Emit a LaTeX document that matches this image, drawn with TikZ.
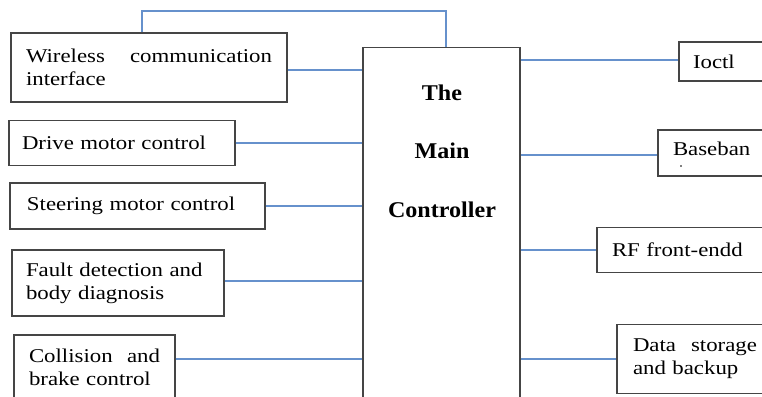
\documentclass[tikz,border=0pt]{standalone}
\usepackage{fontspec}
\setmainfont{Liberation Serif}
\newfontfamily\boxfont{Liberation Serif}[FakeStretch=1.17]
\newfontfamily\ctrlfont{Liberation Serif}[FakeStretch=1.07]
\usetikzlibrary{positioning}
\setlength{\parindent}{0pt}
\definecolor{linkblue}{rgb}{0.40,0.57,0.80}
\definecolor{boxgray}{rgb}{0.27,0.27,0.27}
\tikzset{
  blk/.style={draw=boxgray,line width=1.3pt,fill=white,rectangle,inner xsep=15pt,inner ysep=2pt,
    align=left,font=\boxfont\fontsize{19.5}{23}\selectfont},
  link/.style={draw=linkblue,line width=1.4pt},
  ctrltext/.style={align=center,font=\ctrlfont\bfseries\fontsize{22.5}{58.5}\selectfont}
}

\begin{document}
\begin{tikzpicture}[x=1pt,y=-1pt]
\useasboundingbox (0,0) rectangle (762,396);
\clip (0,0) rectangle (762,396);
% the controller
\node[blk,minimum width=157pt,minimum height=380pt,anchor=north] (main) at (441.5,47) {};
\node[ctrltext] (ctrl) at (442,151) {The\\Main\\Controller};
% left column
\node[blk,minimum width=276pt,minimum height=69pt,text width=246pt] (wireless) at (149,67.5) {Wireless\hfill communication\\interface};
\node[blk,minimum width=226pt,minimum height=45pt,text width=200pt,inner xsep=13pt] (drive) at (122,143) {Drive motor control};
\node[blk,minimum width=255pt,minimum height=46pt,text width=221pt,inner xsep=17pt] (steer) at (137.5,206) {Steering motor control};
\node[blk,minimum width=212pt,minimum height=66pt,text width=190pt,inner xsep=11pt] (fault) at (118,283) {\hspace{3pt}Fault detection and\\\hspace{3pt}body diagnosis};
\node[blk,minimum width=161pt,minimum height=65pt,text width=131pt] (collide) at (94.5,367.5) {Collision\hfill and\\brake control};
% right column
\node[blk,minimum width=111pt,minimum height=39pt,text width=83pt,inner xsep=14pt] (ioctl) at (734.5,61.5) {Ioctl};
\node[blk,minimum width=132pt,minimum height=46pt,text width=102pt,text depth=9pt] (baseband) at (724,153) {Baseban};
\fill (681,166) circle (0.9pt);
\node[blk,minimum width=193pt,minimum height=45pt,text width=163pt] (rf) at (693.5,250) {RF front-endd};
\node[blk,minimum width=154pt,minimum height=69pt,text width=126pt,inner xsep=14pt] (storage) at (694,359) {\hspace{2pt}Data\hfill storage\\\hspace{2pt}and backup};
% connectors
\coordinate (bend) at (446,11);
\draw[link] ([xshift=-7pt]wireless.north) |- (bend) -- (bend |- main.north);
\draw[link] ([yshift=-2.5pt]wireless.east) -- ([yshift=-2.5pt]wireless.east -| main.west);
\draw[link] (drive.east) -- (drive.east -| main.west);
\draw[link] (steer.east) -- (steer.east -| main.west);
\draw[link] ([yshift=2pt]fault.east) -- ([yshift=2pt]fault.east -| main.west);
\draw[link] ([yshift=8.5pt]collide.east) -- ([yshift=8.5pt]collide.east -| main.west);
\draw[link] ([yshift=1.5pt]ioctl.west -| main.east) -- ([yshift=1.5pt]ioctl.west);
\draw[link] ([yshift=-2pt]baseband.west -| main.east) -- ([yshift=-2pt]baseband.west);
\draw[link] (rf.west -| main.east) -- (rf.west);
\draw[link] (storage.west -| main.east) -- (storage.west);
\end{tikzpicture}
\end{document}
